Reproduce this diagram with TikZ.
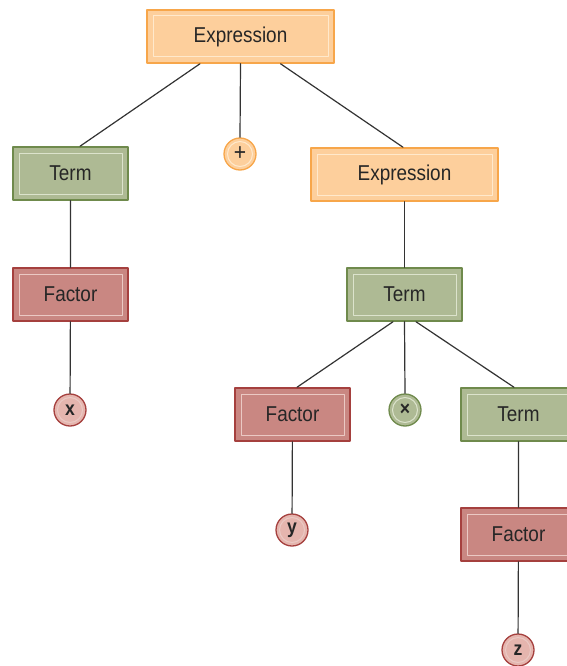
\documentclass[tikz,border=0pt]{standalone}
\usepackage{fontspec}
\setmainfont{Liberation Sans}[FakeStretch=0.88]
\definecolor{exprfill}{HTML}{FDCF9C}
\definecolor{exprline}{HTML}{F7A64A}
\definecolor{exprin}{HTML}{FFE9CC}
\definecolor{termfill}{HTML}{AEBA94}
\definecolor{termline}{HTML}{6F8A4C}
\definecolor{termin}{HTML}{DCE3CC}
\definecolor{factfill}{HTML}{C98782}
\definecolor{factline}{HTML}{A5403E}
\definecolor{factin}{HTML}{EBC9C4}
\definecolor{leaffill}{HTML}{E5B5AE}
\begin{document}
\begin{tikzpicture}[x=1pt, y=-1pt, line cap=round, line join=round,
	font=\fontsize{21.5}{23}\selectfont,
	box/.style args={#1/#2/#3}{draw=#2, fill=#1, line width=1.5pt, minimum width=115pt,
		minimum height=53pt, text=black!85,
		path picture={\draw[#3, line width=1pt] ([shift={(6pt,-6pt)}]path picture bounding box.north west) rectangle ([shift={(-6pt,6pt)}]path picture bounding box.south east);}},
	expr/.style={box=exprfill/exprline/exprin, minimum width=187pt},
	term/.style={box=termfill/termline/termin},
	fact/.style={box=factfill/factline/factin},
	leaf/.style args={#1/#2/#3}{circle, draw=#2, fill=#1, line width=1.3pt, minimum size=32pt,
		inner sep=0pt, text=black!85, font=\bfseries\fontsize{20}{20}\selectfont,
		path picture={\draw[#3, line width=1pt] (path picture bounding box.center) circle (12.5pt);}},
	edge/.style={draw=black!80, line width=1.2pt}]
	% 1. Khung hinh
	\useasboundingbox (0,0) rectangle (567,666);
	\clip (0,0) rectangle (567,666);
	
	% 2. Cac nut chu nhat
	\node[expr] (e1) at (240.5,36.5) {Expression};
	\node[term] (t1) at (70.5,173.5) {Term};
	\node[expr] (e2) at (404.5,174.5) {Expression};
	\node[fact] (f1) at (70.5,294.5) {Factor};
	\node[term] (t2) at (404.5,294.5) {Term};
	\node[fact] (f2) at (292.5,414.5) {Factor};
	\node[term] (t3) at (518.5,414.5) {Term};
	\node[fact] (f3) at (518.5,534.5) {Factor};
	
	% 3. Cac nut tron
	\node[leaf=exprfill/exprline/exprin, font=\fontsize{24}{24}\selectfont] (plus) at (240,154) {+};
	\node[leaf=termfill/termline/termin] (times) at (405,410) {×};
	\foreach \n/\px/\py in {x/70/410, y/292/530, z/518/650}
		\node[leaf=leaffill/factline/factin] (\n) at (\px,\py) {\n};
	
	% 4. Cac canh
	\draw[edge] ([xshift=-40.5pt]e1.south) -- ([xshift=9.5pt]t1.north);
	\draw[edge] (e1.south) -- (plus.north);
	\draw[edge] ([xshift=40pt]e1.south) -- ([xshift=-1.5pt]e2.north);
	\draw[edge] (t1) -- (f1) (f1) -- (x);
	\draw[edge] (e2) -- (t2);
	\draw[edge] ([xshift=-11.5pt]t2.south) -- ([xshift=4.5pt]f2.north);
	\draw[edge] (t2.south) -- (times.north);
	\draw[edge] ([xshift=11.5pt]t2.south) -- ([xshift=-4.5pt]t3.north);
	\draw[edge] (f2) -- (y) (t3) -- (f3) (f3) -- (z);
\end{tikzpicture}
\end{document}
